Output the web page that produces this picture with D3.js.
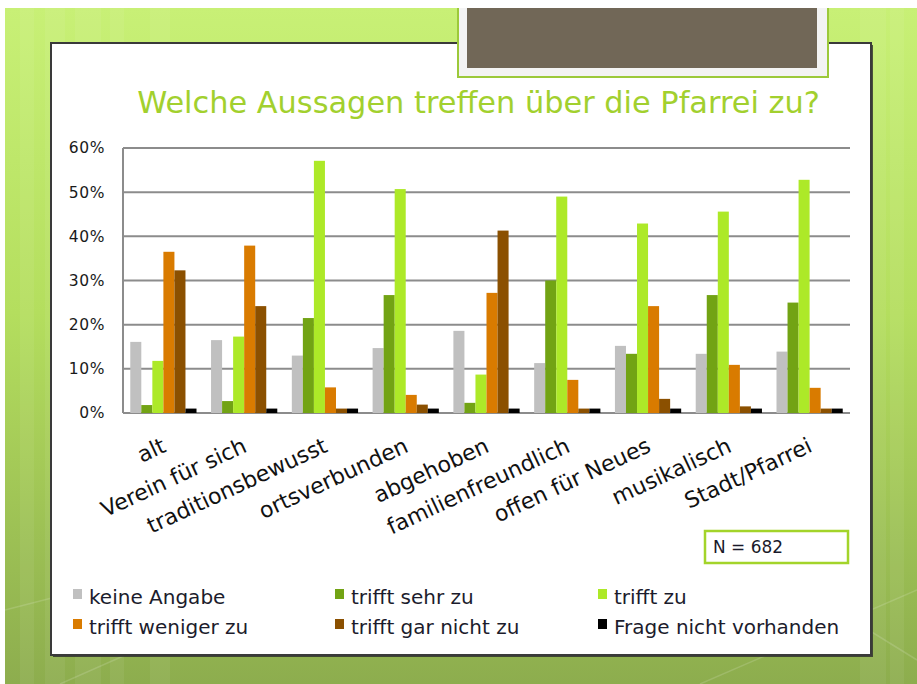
<!DOCTYPE html>
<html><head><meta charset="utf-8">
<script src="https://cdn.jsdelivr.net/npm/d3@7"></script>
<style>html,body{margin:0;padding:0;background:#fff;overflow:hidden}</style>
</head><body>
<script>
const categories = ["alt","Verein für sich","traditionsbewusst","ortsverbunden","abgehoben","familienfreundlich","offen für Neues","musikalisch","Stadt/Pfarrei"];
const seriesNames = ["keine Angabe","trifft sehr zu","trifft zu","trifft weniger zu","trifft gar nicht zu","Frage nicht vorhanden"];
const keineAngabe         = [16.1,16.5,13.0,14.7,18.6,11.3,15.2,13.4,13.9];
const trifftSehrZu        = [1.8, 2.7, 21.5,26.7, 2.3,30.0,13.4,26.7,25.0];
const trifftZu            = [11.8,17.3,57.1,50.7, 8.7,49.0,42.9,45.6,52.8];
const trifftWenigerZu     = [36.5,37.9, 5.8, 4.1,27.2, 7.5,24.2,10.9, 5.7];
const trifftGarNichtZu    = [32.3,24.2, 1.0, 1.9,41.3, 1.0, 3.2, 1.5, 1.0];
const frageNichtVorhanden = [1.0, 1.0, 1.0, 1.0, 1.0, 1.0, 1.0, 1.0, 1.0];
const yTicks = [0,10,20,30,40,50,60];
const colors = ["#c0c0c0","#72a314","#ade928","#d97b00","#8b5000","#000000"];
const titleText = "Welche Aussagen treffen über die Pfarrei zu?";
const nText = "N = 682";

const allSeries = [keineAngabe,trifftSehrZu,trifftZu,trifftWenigerZu,trifftGarNichtZu,frageNichtVorhanden];
const W = 917, H = 684;
const FONT = "'DejaVu Sans', Verdana, sans-serif";
const svg = d3.select("body").append("svg").attr("width", W).attr("height", H);
const defs = svg.append("defs");
const g1 = defs.append("linearGradient").attr("id","bg").attr("x1",0).attr("y1",0).attr("x2",0).attr("y2",1);
g1.append("stop").attr("offset","0%").attr("stop-color","#c8f076");
g1.append("stop").attr("offset","45%").attr("stop-color","#b4de5e");
g1.append("stop").attr("offset","100%").attr("stop-color","#8dad4e");

svg.append("rect").attr("width",W).attr("height",H).attr("fill","#fff");
svg.append("rect").attr("x",5).attr("y",8).attr("width",W-5).attr("height",H-8).attr("fill","url(#bg)");
[20,45,75,110,150,860,890].forEach((sx,i)=>{
  svg.append("rect").attr("x",sx).attr("y",8).attr("width",14+i%3*6).attr("height",H-8)
    .attr("fill","#ffffff").attr("opacity",0.06);
});
[[5,610,200,560],[60,684,250,600],[700,684,917,590],[820,600,917,660]].forEach(l=>{
  svg.append("line").attr("x1",l[0]).attr("y1",l[1]).attr("x2",l[2]).attr("y2",l[3])
    .attr("stroke","#fff").attr("stroke-opacity",0.15).attr("stroke-width",1.5);
});

// panel
svg.append("rect").attr("x",53).attr("y",45).attr("width",820).attr("height",612).attr("fill","#2a2a2a").attr("opacity",0.8);
svg.append("rect").attr("x",51).attr("y",43).attr("width",820).attr("height",612).attr("fill","#fff").attr("stroke","#3a3a3a").attr("stroke-width",2);

// top box
svg.append("rect").attr("x",458).attr("y",6).attr("width",370).attr("height",71).attr("fill","#f3f3f3").attr("stroke","#9cc93a").attr("stroke-width",2);
svg.append("rect").attr("x",467).attr("y",8).attr("width",350).attr("height",60).attr("fill","#716757");
svg.append("rect").attr("x",0).attr("y",0).attr("width",W).attr("height",8).attr("fill","#fff");

function fit(sel, target){
  const len = sel.node().getComputedTextLength();
  const fs = parseFloat(sel.attr("font-size"));
  sel.attr("font-size", (fs*target/len).toFixed(2));
}

// title
const title = svg.append("text").attr("x",478.5).attr("y",113).attr("text-anchor","middle")
  .attr("font-family",FONT).attr("font-size",25).attr("fill","#a2d02e").text(titleText);
fit(title, 683);

// scales
const x0 = d3.scaleBand().domain(categories).range([123,850]).paddingInner(0.18).paddingOuter(0.09);
const x1 = d3.scaleBand().domain(seriesNames).range([0,x0.bandwidth()]);
const y = d3.scaleLinear().domain([0,60]).range([413,148]);

// grid
svg.append("g").selectAll("line").data(yTicks).join("line")
  .attr("x1",123).attr("x2",850).attr("y1",d=>y(d)).attr("y2",d=>y(d))
  .attr("stroke","#8c8c8c").attr("stroke-width",2);
svg.append("line").attr("x1",123).attr("x2",123).attr("y1",y(60)).attr("y2",y(0)).attr("stroke","#8c8c8c").attr("stroke-width",2);

// y axis labels
const yAxis = svg.append("g").attr("transform","translate(123,0)")
  .call(d3.axisLeft(y).tickValues(yTicks).tickFormat(d=>d+"%").tickSize(0).tickPadding(18));
yAxis.select(".domain").remove();
yAxis.selectAll("text").attr("font-family",FONT).attr("font-size",15.5).attr("letter-spacing","0.6px").attr("fill","#1a1a1a");

// bars
const groups = svg.append("g").selectAll("g").data(categories).join("g")
  .attr("transform",c=>`translate(${x0(c)},0)`);
groups.selectAll("rect").data((c,ci)=>seriesNames.map((s,si)=>({s,si,v:allSeries[si][ci]}))).join("rect")
  .attr("x",d=>x1(d.s)).attr("width",x1.bandwidth())
  .attr("y",d=>y(d.v)).attr("height",d=>y(0)-y(d.v))
  .attr("fill",d=>colors[d.si]);

// x labels
svg.append("g").selectAll("text").data(categories).join("text")
  .attr("transform",c=>`translate(${x0(c)+x0.bandwidth()/2+4},451) rotate(-25)`)
  .attr("text-anchor","end").attr("font-family",FONT).attr("font-size",22).attr("fill","#111")
  .text(c=>c);

// N box
svg.append("rect").attr("x",705).attr("y",531).attr("width",143).attr("height",32)
  .attr("fill","#fff").attr("stroke","#a3d42a").attr("stroke-width",2.5);
const nt = svg.append("text").attr("x",713).attr("y",553).attr("font-family",FONT).attr("font-size",17).attr("fill","#1a1a2a").text(nText);
fit(nt,70);

// legend
const legCols = [73,335,598], legRows = [604,634];
const leg = svg.append("g").selectAll("g").data(seriesNames).join("g")
  .attr("transform",(d,i)=>`translate(${legCols[i%3]},${legRows[Math.floor(i/3)]})`);
leg.append("rect").attr("x",0).attr("y",-15).attr("width",9).attr("height",10).attr("fill",(d,i)=>colors[i]);
leg.append("text").attr("x",16).attr("y",0).attr("font-family",FONT).attr("font-size",20).attr("fill","#1c1c2c").text(d=>d);
</script>
</body></html>
